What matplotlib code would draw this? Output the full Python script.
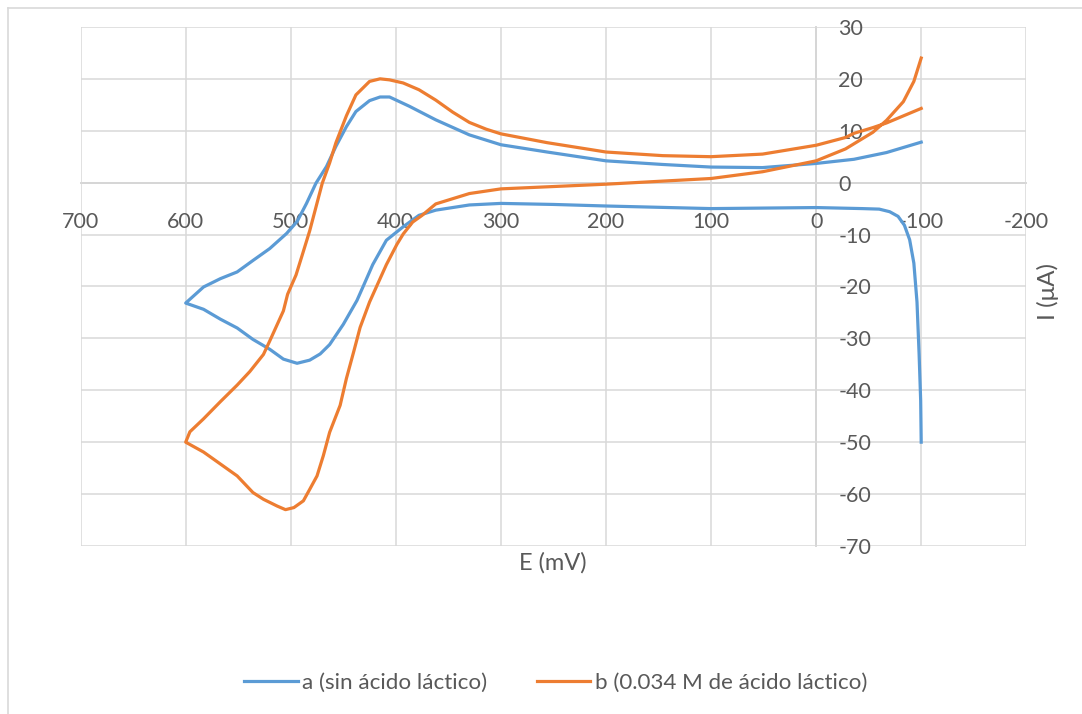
import numpy as np
import matplotlib.pyplot as plt
from matplotlib.lines import Line2D

plt.rcParams['font.family'] = ['Lato', 'DejaVu Sans']
plt.rcParams['axes.unicode_minus'] = False

# curva a: sin acido lactico (E en mV, I en uA)
E_a = [-100, -67, -36, 0, 51, 100, 146, 200, 256, 300, 330, 362, 387, 406, 415,
       425, 438, 447, 457, 466, 476, 485, 494, 504, 520, 536, 551, 567, 583, 600,
       583, 567, 551, 536, 520, 507, 494, 482, 472, 463, 450, 437, 430, 422, 409, 393,
       378, 362, 330, 300, 250, 200, 100, 0, -44, -60, -70, -78, -84, -89, -93, -96,
       -98, -99.5, -100]
I_a = [7.8, 5.8, 4.5, 3.7, 2.9, 3.0, 3.5, 4.2, 5.9, 7.3, 9.2, 12.1, 14.7, 16.5, 16.5,
       15.8, 13.7, 10.8, 7.0, 3.1, -0.1, -4.0, -7.5, -9.8, -12.7, -15.0, -17.2, -18.5, -20.1, -23.2,
       -24.4, -26.3, -28.0, -30.2, -32.1, -34.0, -34.8, -34.2, -33.0, -31.2, -27.3, -22.7, -19.5, -15.8, -11.1, -8.5,
       -6.3, -5.3, -4.3, -4.0, -4.2, -4.5, -5.0, -4.8, -5.0, -5.1, -5.6, -6.5, -8.2, -11.0, -15.5, -23.0,
       -33.0, -42.0, -50.0]

# curva b: 0.034 M de acido lactico
E_b = [-100, -67, -54, -36, -28, 0, 51, 100, 146, 200, 256, 300, 314, 330, 346,
       362, 378, 393, 406, 415, 425, 438, 447, 457, 463, 470, 476, 482, 489, 495,
       503, 507, 520, 526, 539, 551, 567, 583, 596, 600,
       583, 567, 551, 536, 526, 513, 505, 497, 488, 482, 475, 469, 463, 453, 447,
       440, 434, 425, 409, 399, 393, 384, 375, 362, 330, 300, 200, 100, 51, 0,
       -28, -54, -67, -83, -93, -100]
I_b = [14.3, 11.5, 10.6, 9.5, 8.7, 7.2, 5.5, 5.0, 5.2, 5.9, 7.7, 9.4, 10.3, 11.6, 13.6,
       15.9, 17.9, 19.2, 19.8, 20.0, 19.5, 16.9, 12.9, 7.7, 3.8, -0.1, -4.7, -9.3, -13.9, -17.8,
       -21.5, -24.7, -30.5, -33.1, -36.4, -39.0, -42.2, -45.5, -48.0, -50.0,
       -51.9, -54.2, -56.5, -59.7, -61.0, -62.3, -63.0, -62.6, -61.3, -59.1, -56.5, -52.6, -48.1, -42.9, -37.7,
       -32.5, -27.9, -23.0, -15.8, -11.9, -9.9, -7.6, -6.3, -4.1, -2.1, -1.2, -0.3, 0.8, 2.1, 4.2,
       6.5, 9.7, 12.0, 15.6, 19.5, 24.0]

x_ticks = list(range(700, -201, -100))
y_ticks = list(range(-70, 31, 10))

gris = '#595959'

fig = plt.figure(figsize=(10.82, 7.14), dpi=100)
ax = fig.add_axes([0.0745, 0.2353, 0.874, 0.727])

ax.plot(E_a, I_a, color='#5B9BD5', lw=2.3, label='a (sin ácido láctico)')
ax.plot(E_b, I_b, color='#ED7D31', lw=2.3, label='b (0.034 M de ácido láctico)')

ax.set_xlim(700, -200)
ax.set_ylim(-70, 30)
ax.set_xticks(x_ticks)
ax.set_yticks(y_ticks)
ax.grid(True, color='#D9D9D9', lw=1.1)
ax.set_axisbelow(True)

ax.spines['top'].set_visible(False)
ax.spines['left'].set_visible(False)
ax.spines['bottom'].set_position(('data', 0))
ax.spines['right'].set_position(('data', 0))
for s in ['bottom', 'right']:
    ax.spines[s].set_color('#BFBFBF')
    ax.spines[s].set_linewidth(1.1)
    ax.spines[s].set_zorder(0.5)

ax.yaxis.tick_right()
ax.tick_params(axis='x', length=0, pad=21, labelsize=15.5, labelcolor=gris)
ax.tick_params(axis='y', length=0, pad=16, labelsize=15.5, labelcolor=gris)
for lab in ax.get_yticklabels():
    lab.set_horizontalalignment('left')

fig.text(553 / 1082, 1 - 563 / 714, 'E (mV)', ha='center', va='center',
         fontsize=17, color=gris)
fig.text(1048 / 1082, 1 - 292 / 714, 'I (μA)', ha='center', va='center',
         fontsize=17.5, color=gris, rotation=90)

fig.legend(loc='center', bbox_to_anchor=(0.5135, 1 - 683 / 714), ncol=2,
           frameon=False, fontsize=16.1, labelcolor=gris, handlelength=2.4,
           columnspacing=2.2, handletextpad=0.2)

# borde del grafico
fig.add_artist(Line2D([8 / 1082, 8 / 1082], [0, 1 - 8 / 714], color='#D9D9D9', lw=1.2))
fig.add_artist(Line2D([8 / 1082, 1], [1 - 8 / 714, 1 - 8 / 714], color='#D9D9D9', lw=1.2))

fig.savefig('out.png', dpi=100)
